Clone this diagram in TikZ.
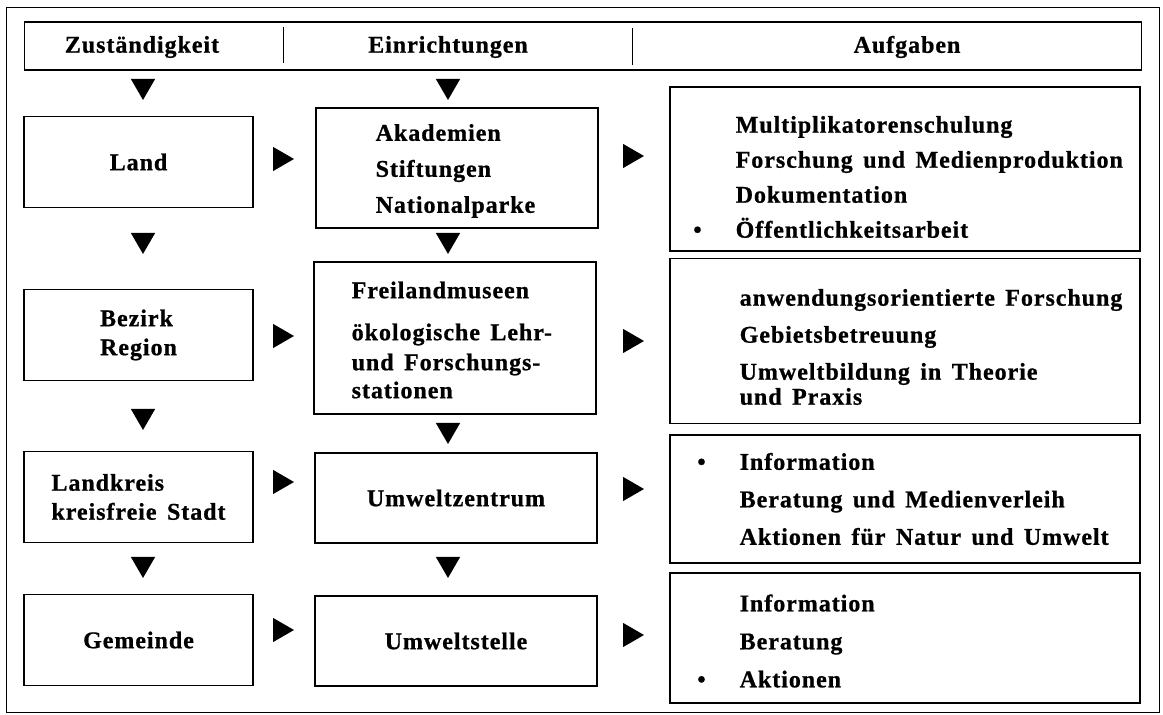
\documentclass[tikz,border=0pt]{standalone}
\usepackage{fontspec}
\setmainfont{Liberation Serif}[LetterSpace=4,WordSpace=1.5,BoldFeatures={FakeBold=0.8}]
\usetikzlibrary{shapes.geometric}

\begin{document}
\begin{tikzpicture}[x=0.5pt,y=-0.5pt,
  every node/.style={font=\fontsize{12}{14.5}\selectfont\bfseries,inner sep=0pt},
  box/.style={draw,line width=0.7pt},
  zustbox/.style={box,minimum width=114.5pt,minimum height=45.5pt,align=left},
  einrbox/.style={box,minimum width=141pt,align=left},
  aufgbox/.style={box,minimum width=235pt},
  liste/.style={anchor=west,align=left},
  tridown/.style={regular polygon,regular polygon sides=3,shape border rotate=180,fill,minimum size=14pt},
  triright/.style={regular polygon,regular polygon sides=3,shape border rotate=-90,fill,minimum size=14pt}]
  \useasboundingbox (0,0) rectangle (1163,715);
  % frame
  \draw[line width=0.5pt] (6,8) rectangle (1159,713);
  % header
  \node[box,minimum width=558.5pt,minimum height=24pt] (kopf) at (583,46) {};
  \draw[line width=0.5pt] (283,27) -- (283,63);
  \draw[line width=0.5pt] (632,28) -- (632,65);
  \node (hzust) at (142,47) {Zuständigkeit};
  \node (heinr) at (448,47) {Einrichtungen};
  \node (haufg) at (907,47) {Aufgaben};
  % Zustaendigkeit
  \node[zustbox] (land) at (138.5,162) {Land};
  \node[zustbox] (bezirk) at (138.5,335) {Bezirk\\Region};
  \node[zustbox] (landkreis) at (138.5,497) {Landkreis\\kreisfreie Stadt};
  \node[zustbox] (gemeinde) at (138.5,640) {Gemeinde};
  % Einrichtungen
  \node[einrbox,minimum height=60pt] (akad) at (457,168) {};
  \node[liste] (akadtxt) at ([xshift=30pt,yshift=-1.5pt]akad.west)
    {Akademien\\[3.5pt]Stiftungen\\[3.5pt]Nationalparke};
  \node[einrbox,minimum height=76pt] (frei) at (455,338) {};
  \node[liste] (freitxt) at ([xshift=19pt,yshift=-1pt]frei.west)
    {Freilandmuseen\\[6.5pt]ökologische Lehr-\\[0.5pt]und Forschungs-\\[-0.5pt]stationen};
  \node[einrbox,minimum height=45pt] (uzentrum) at (456,498) {Umweltzentrum};
  \node[einrbox,minimum height=45pt] (ustelle) at (456,641) {Umweltstelle};
  % Aufgaben
  \node[aufgbox,minimum height=82pt] (aufg1) at (905,169) {};
  \node[liste] (aufg1txt) at ([xshift=33pt,yshift=-4pt]aufg1.west)
    {Multiplikatorenschulung\\[3pt]Forschung und Medienproduktion\\[3pt]Dokumentation\\[3pt]\llap{\textbullet\hspace{17pt}}Öffentlichkeitsarbeit};
  \node[aufgbox,minimum height=82.5pt] (aufg2) at (905,341) {};
  \node[liste] (aufg2txt) at ([xshift=35pt,yshift=-3pt]aufg2.west)
    {anwendungsorientierte Forschung\\[4pt]Gebietsbetreuung\\[4pt]Umweltbildung in Theorie\\[-2pt]und Praxis};
  \node[aufgbox,minimum height=64pt] (aufg3) at (905,499) {};
  \node[liste] (aufg3txt) at ([xshift=35pt]aufg3.west)
    {\llap{\textbullet\hspace{17pt}}Information\\[4.25pt]Beratung und Medienverleih\\[4.25pt]Aktionen für Natur und Umwelt};
  \node[aufgbox,minimum height=65pt] (aufg4) at (905,638) {};
  \node[liste] (aufg4txt) at ([xshift=35pt,yshift=-1.5pt]aufg4.west)
    {Information\\[4.5pt]Beratung\\[4.5pt]\llap{\textbullet\hspace{17pt}}Aktionen};
  % arrows
  \foreach \n/\x/\y in {dz0/143/86, dz1/143/240, dz2/143/416, dz3/143/564,
                        de0/448/86, de1/448/240, de2/448/430, de3/448/564}
    \node[tridown] (\n) at (\x,\y) {};
  \foreach \n/\x/\y in {rz1/280/159, rz2/280/336, rz3/280/482, rz4/280/630,
                        re1/630/156, re2/630/341, re3/630/489, re4/630/635}
    \node[triright] (\n) at (\x,\y) {};
\end{tikzpicture}
\end{document}
